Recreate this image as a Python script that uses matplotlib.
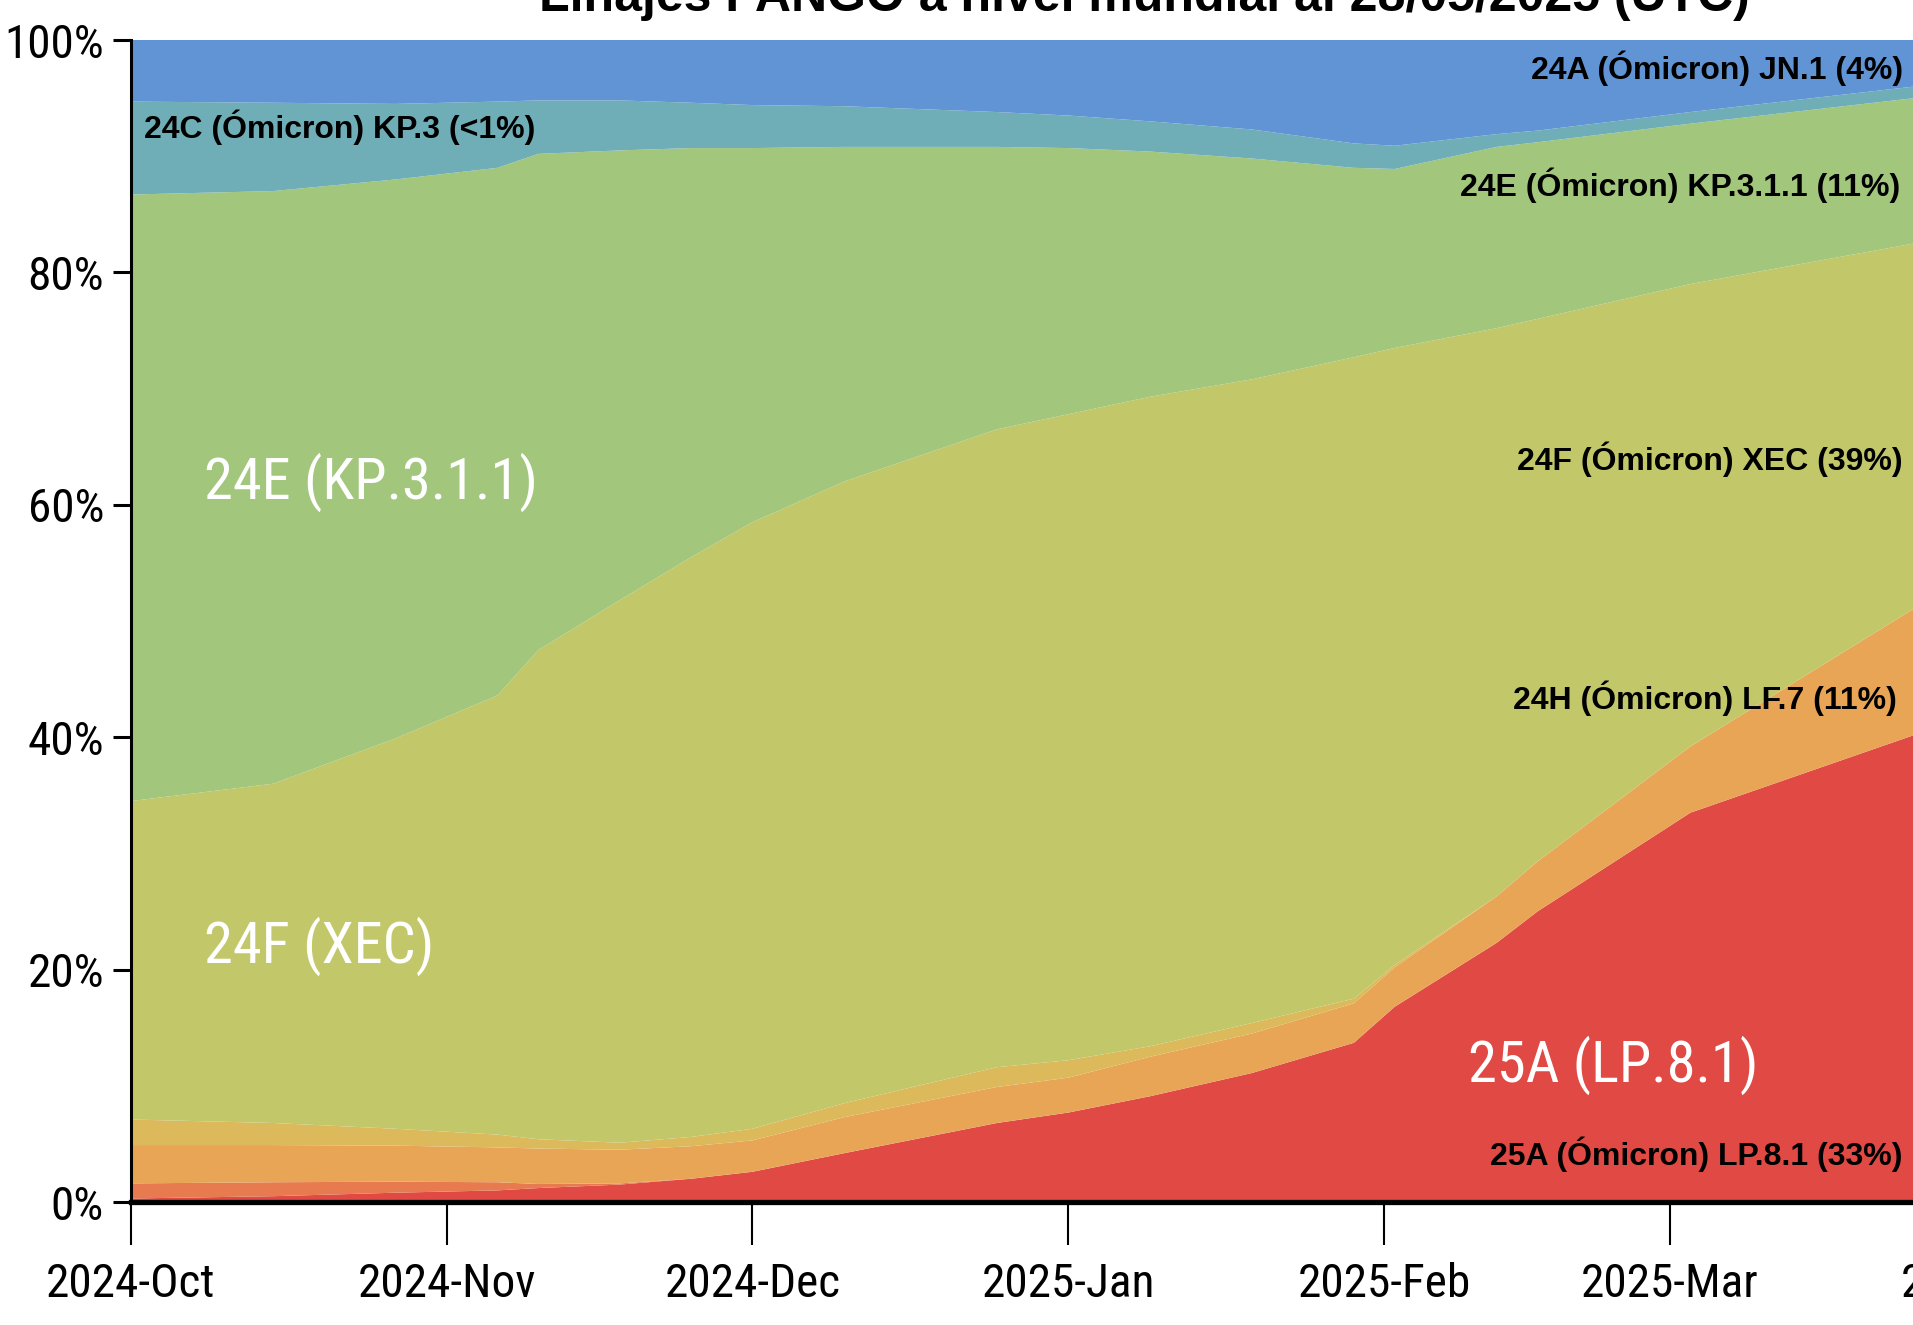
import numpy as np
import pandas as pd
import matplotlib
matplotlib.use('Agg')
import matplotlib.pyplot as plt
import matplotlib.dates as mdates
from matplotlib import font_manager

# sample dates
dates = pd.to_datetime(['2024-10-01', '2024-10-15', '2024-10-27', '2024-11-06', '2024-11-10',
                        '2024-11-18', '2024-11-25', '2024-12-01', '2024-12-10', '2024-12-25',
                        '2025-01-01', '2025-01-09', '2025-01-19', '2025-01-29', '2025-02-02',
                        '2025-02-12', '2025-02-16', '2025-03-03', '2025-03-25'])

# share of each lineage (%), bottom to top
lp81 = [0.3, 0.5, 0.8, 1.0, 1.2, 1.5, 2.0, 2.6, 4.2, 6.8, 7.7, 9.1, 11.1, 13.7, 16.8, 22.3, 25.0, 33.5, 40.2]
other_red = [1.3, 1.2, 0.95, 0.7, 0.35, 0.1, 0, 0, 0, 0, 0, 0, 0, 0, 0, 0, 0, 0, 0]
lf7 = [3.3, 3.2, 3.1, 3.0, 3.05, 2.9, 2.8, 2.7, 3.1, 3.1, 3.0, 3.4, 3.4, 3.4, 3.4, 4.0, 4.3, 5.7, 10.9]
other_orange = [2.2, 1.9, 1.45, 1.1, 0.8, 0.6, 0.8, 1.0, 1.2, 1.7, 1.5, 0.9, 0.9, 0.4, 0.2, 0, 0, 0, 0]
xec = [27.4, 29.2, 33.6, 37.8, 42.1, 46.7, 49.9, 52.2, 53.5, 54.9, 55.6, 55.9, 55.4, 55.2, 53.1, 48.9, 46.7, 39.8, 31.4]
kp311 = [52.2, 51.0, 48.1, 45.4, 42.7, 38.7, 35.2, 32.2, 28.8, 24.3, 22.9, 21.1, 19.0, 16.3, 15.4, 15.6, 15.2, 13.8, 12.5]
kp3 = [8.0, 7.6, 6.5, 5.7, 4.6, 4.3, 3.9, 3.7, 3.5, 3.0, 2.8, 2.6, 2.5, 2.1, 2.0, 1.1, 1.0, 1.0, 1.0]
jn1 = [5.3, 5.4, 5.5, 5.3, 5.2, 5.2, 5.4, 5.6, 5.7, 6.2, 6.5, 7.0, 7.7, 8.9, 9.1, 8.1, 7.8, 6.2, 4.0]

colors = ['#E04944', '#E77A4F', '#E9A556', '#DCB95B', '#C2C86A', '#A1C67C', '#6FAEB7', '#6094D4']

month_ticks = pd.date_range('2024-10-01', '2025-04-01', freq='MS')
y_ticks = [0, 20, 40, 60, 80, 100]

W, H = 1913, 1325
bold = ['Liberation Sans', 'DejaVu Sans']


def find_narrow():
    # look for any condensed / narrow regular face that is installed
    prefs = ['Liberation Sans Narrow', 'Roboto Condensed', 'Open Sans Condensed',
             'Noto Sans Condensed', 'DejaVu Sans Condensed']
    found = []
    for f in font_manager.fontManager.ttflist:
        name = f.name + ' ' + str(f.stretch) + ' ' + f.fname
        if any(k in name for k in ['Narrow', 'Condensed', 'condensed']) and f.style == 'normal' \
                and f.weight in (400, 'normal', 'regular'):
            found.append(f)
    for p in prefs:
        for f in found:
            if f.name == p or p.replace(' ', '') in f.fname.replace(' ', ''):
                return f.fname
    return found[0].fname if found else None


narrow_file = find_narrow()


def narrow_font(size):
    if narrow_file:
        return font_manager.FontProperties(fname=narrow_file, size=size)
    return font_manager.FontProperties(family='DejaVu Sans', size=size * 0.8)


def fx(x):
    return x / W


def fy(y):
    return 1 - y / H


fig = plt.figure(figsize=(W / 100, H / 100), dpi=100)
ax = fig.add_axes([fx(130.5), fy(1202), 186 * 10.195 / W, (1202 - 40) / H])

ax.stackplot(dates, lp81, other_red, lf7, other_orange, xec, kp311, kp3, jn1,
             colors=colors, linewidth=0)

ax.set_xlim(pd.Timestamp('2024-10-01'), pd.Timestamp('2025-04-05'))
ax.set_ylim(0, 100)
ax.set_xticks(month_ticks)
ax.xaxis.set_major_formatter(mdates.DateFormatter('%Y-%b'))
ax.set_yticks(y_ticks)
ax.set_yticklabels([f'{v}%' for v in y_ticks])

for s in ['top', 'right']:
    ax.spines[s].set_visible(False)
ax.spines['left'].set_linewidth(2.2)
ax.spines['bottom'].set_linewidth(3.8)
ax.spines['bottom'].set_zorder(5)
ax.tick_params(axis='y', length=13, width=2.2, pad=6)
ax.tick_params(axis='x', length=31, width=1.5, pad=12)
for lab in ax.get_xticklabels() + ax.get_yticklabels():
    lab.set_fontproperties(narrow_font(34))

# title, cut off by the top edge
fig.text(fx(1144), fy(11), 'Linajes PANGO a nivel mundial al 28/05/2025 (UTC)',
         ha='center', va='baseline', fontsize=36, fontweight='bold', family=bold)

# big white labels
for txt, x, y in [('24E (KP.3.1.1)', 204, 482), ('24F (XEC)', 204, 946), ('25A (LP.8.1)', 1468, 1065)]:
    fig.text(fx(x), fy(y), txt, ha='left', va='center', color='white',
             fontproperties=narrow_font(42))

# black labels
labels = [
    ('24A (Ómicron) JN.1 (4%)', 1903, 68, 'right'),
    ('24C (Ómicron) KP.3 (<1%)', 144, 127, 'left'),
    ('24E (Ómicron) KP.3.1.1 (11%)', 1900, 185, 'right'),
    ('24F (Ómicron) XEC (39%)', 1903, 459, 'right'),
    ('24H (Ómicron) LF.7 (11%)', 1897, 698, 'right'),
    ('25A (Ómicron) LP.8.1 (33%)', 1903, 1154, 'right'),
]
for txt, x, y, ha in labels:
    fig.text(fx(x), fy(y), txt, ha=ha, va='center', fontsize=23, fontweight='bold',
             family=bold, color='black')

fig.savefig('out.png', dpi=100)
